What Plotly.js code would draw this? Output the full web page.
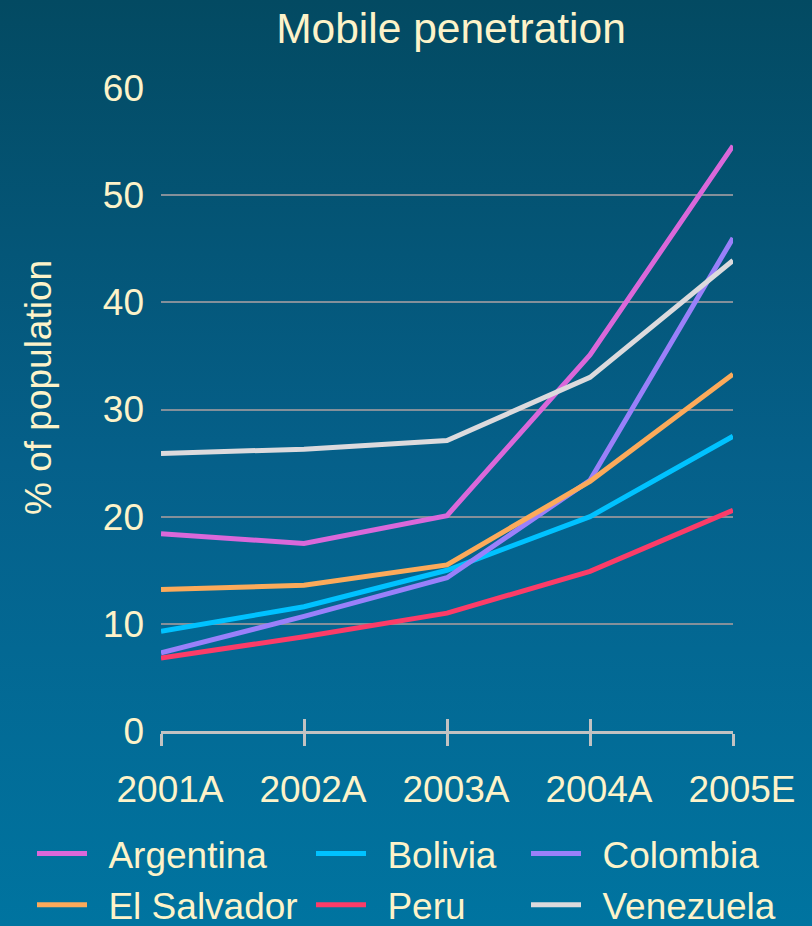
<!DOCTYPE html>
<html>
<head>
<meta charset="utf-8">
<script src="https://cdn.plot.ly/plotly-3.0.1.min.js"></script>
<style>
  html, body { margin: 0; padding: 0; }
  body {
    width: 812px; height: 926px; overflow: hidden;
    background: linear-gradient(to bottom, #034a62 0%, #05608a 50%, #0074a0 100%);
  }
  #chart { width: 812px; height: 926px; }
</style>
</head>
<body>
<div id="chart"></div>
<script>
// Mobile penetration by country, % of population
const years = ['2001A', '2002A', '2003A', '2004A', '2005E'];

const argentina  = [18.4, 17.5, 20.1, 35.1, 54.6];
const bolivia    = [9.3, 11.6, 15.0, 20.0, 27.5];
const colombia   = [7.3, 10.7, 14.3, 23.4, 46.0];
const elSalvador = [13.2, 13.6, 15.5, 23.3, 33.3];
const peru       = [6.8, 8.8, 11.0, 14.9, 20.6];
const venezuela  = [25.9, 26.3, 27.1, 33.0, 43.9];

const yTicks = [0, 10, 20, 30, 40, 50, 60];

const cream = '#fdf3c9';
const font = "'Liberation Sans', Arial, sans-serif";

function series(name, values, color, legendId) {
  return {
    type: 'scatter', mode: 'lines',
    // small spaces keep the legend label clear of its swatch
    name: '\u00a0\u2006' + name,
    x: years, y: values,
    line: { color: color, width: 5 },
    legend: legendId,
    hoverinfo: 'x+y'
  };
}

const data = [
  series('Argentina', argentina, '#da68da', 'legend'),
  series('Bolivia', bolivia, '#00c2ff', 'legend2'),
  series('Colombia', colombia, '#9a80fa', 'legend3'),
  series('El Salvador', elSalvador, '#fcaa5a', 'legend'),
  series('Peru', peru, '#fc3c68', 'legend2'),
  series('Venezuela', venezuela, '#dcdadd', 'legend3'),
  // carrier for the upper half of the crossing tick marks
  { type: 'scatter', mode: 'lines', x: years, y: years.map(() => null),
    xaxis: 'x2', showlegend: false, hoverinfo: 'skip' }
];

const legendBase = {
  orientation: 'v', xref: 'container', yref: 'container',
  xanchor: 'left', yanchor: 'top', y: 1 - 823 / 926,
  bgcolor: 'rgba(0,0,0,0)', borderwidth: 0,
  font: { family: font, size: 37, color: cream },
  itemwidth: 50, tracegroupgap: 0
};

const layout = {
  width: 812, height: 926,
  paper_bgcolor: 'rgba(0,0,0,0)',
  plot_bgcolor: 'rgba(0,0,0,0)',
  margin: { l: 161, r: 79, t: 88, b: 195, autoexpand: false },
  font: { family: font, color: cream, size: 37 },
  title: {
    text: 'Mobile penetration',
    font: { family: font, size: 42.5, color: cream },
    x: 451 / 812, xref: 'container', xanchor: 'center',
    y: 1 - 28 / 926, yref: 'container', yanchor: 'middle'
  },
  xaxis: {
    type: 'category', categoryorder: 'array', categoryarray: years,
    range: [0, 4], showgrid: false, zeroline: false, automargin: false,
    showline: true, linecolor: '#c2c2c2', linewidth: 3,
    ticks: 'outside', ticklen: 12, tickwidth: 3, tickcolor: '#c2c2c2',
    ticklabelstandoff: 12, ticklabelshift: 9,
    tickfont: { family: font, size: 37, color: cream }
  },
  xaxis2: {
    type: 'category', categoryorder: 'array', categoryarray: years,
    overlaying: 'x', anchor: 'y', range: [0, 4], automargin: false,
    showgrid: false, zeroline: false, showline: false,
    ticks: 'inside', ticklen: 12, tickwidth: 3, tickcolor: '#c2c2c2',
    showticklabels: false
  },
  yaxis: {
    range: [0, 60], tickvals: yTicks, ticktext: yTicks.map(String),
    showgrid: true, gridcolor: '#84909a', gridwidth: 2, automargin: false,
    zeroline: false, showline: false, ticks: '',
    ticklabelstandoff: 16,
    tickfont: { family: font, size: 37, color: cream }
  },
  annotations: [{
    text: '% of population', textangle: -90,
    xref: 'paper', yref: 'paper',
    x: (38 - 161) / 572, y: (731 - 388) / 643,
    xanchor: 'center', yanchor: 'middle', showarrow: false,
    font: { family: font, size: 37, color: cream }
  }],
  showlegend: true,
  legend: Object.assign({}, legendBase, { x: 32 / 812 }),
  legend2: Object.assign({}, legendBase, { x: 311 / 812 }),
  legend3: Object.assign({}, legendBase, { x: 526 / 812 })
};

Plotly.newPlot('chart', data, layout, { displayModeBar: false, staticPlot: true });
</script>
</body>
</html>
